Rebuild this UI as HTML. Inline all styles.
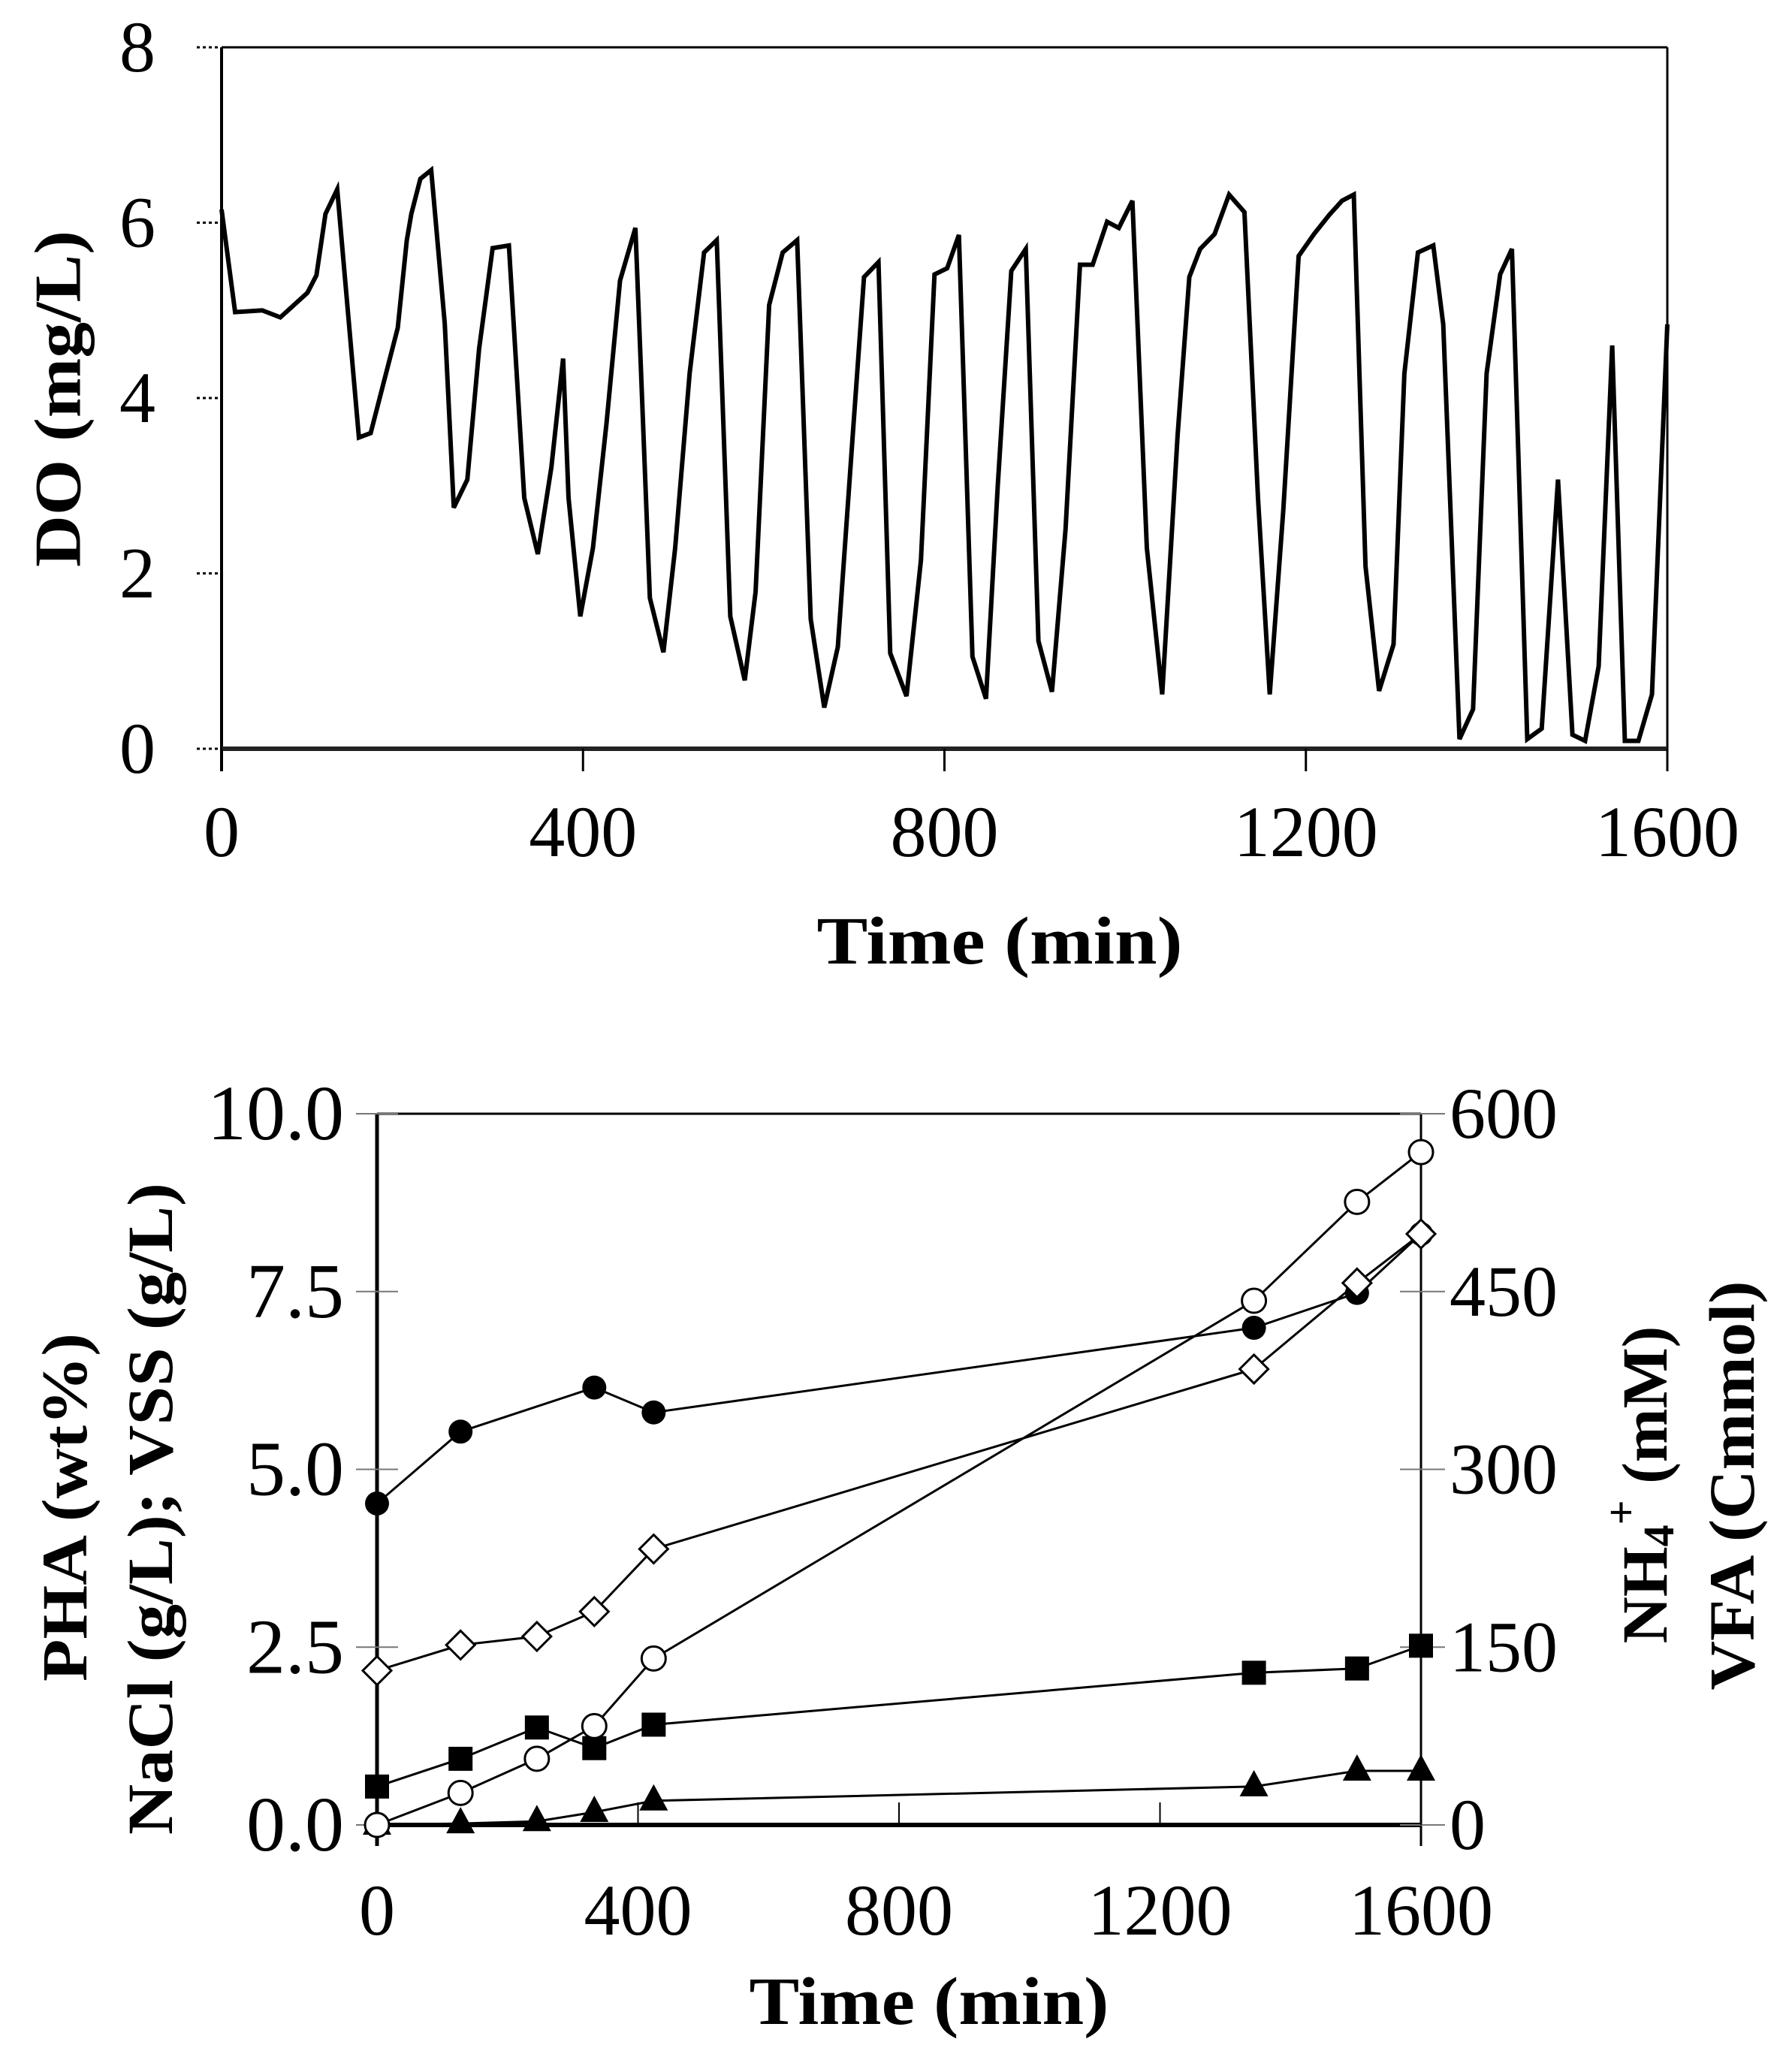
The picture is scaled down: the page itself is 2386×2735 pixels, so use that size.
<!DOCTYPE html>
<html><head><meta charset="utf-8"><style>
html,body{margin:0;padding:0;background:#fff;}
svg{display:block;}
text{font-family:"Liberation Serif",serif;fill:#000;}
</style></head><body>
<svg id="svg" width="2386" height="2735" viewBox="0 0 2386 2735" xmlns="http://www.w3.org/2000/svg">
<g id="top"></g>
<g id="bot"></g>
</svg>
<script>
// ---- Top chart data (DO vs time)
const doTimes = [0,15,45,65,95,105,115,128,138,152,165,180,195,205,210,220,232,247,257,272,285,300,318,335,350,365,378,384,397,411,426,441,458,474,489,502,518,534,548,563,579,591,606,621,637,652,667,682,698,711,727,740,758,774,789,803,816,831,846,859,874,890,904,919,934,950,964,980,993,1008,1024,1041,1058,1071,1083,1099,1115,1132,1147,1160,1175,1192,1209,1226,1240,1253,1266,1281,1297,1309,1324,1341,1352,1370,1385,1400,1415,1428,1445,1461,1479,1495,1509,1524,1539,1553,1568,1583,1600];
const doValues = [6.15,4.98,5.0,4.92,5.2,5.4,6.1,6.38,5.2,3.55,3.6,4.2,4.8,5.8,6.1,6.5,6.6,4.85,2.75,3.07,4.56,5.71,5.74,2.86,2.22,3.21,4.45,2.86,1.51,2.29,3.71,5.34,5.94,1.72,1.1,2.29,4.28,5.66,5.8,1.51,0.78,1.79,5.06,5.66,5.8,1.48,0.47,1.16,3.5,5.38,5.55,1.09,0.6,2.15,5.41,5.48,5.86,1.05,0.57,3.0,5.45,5.7,1.23,0.65,2.5,5.52,5.52,6.01,5.94,6.25,2.29,0.62,3.57,5.38,5.7,5.87,6.32,6.12,2.86,0.62,2.72,5.62,5.87,6.09,6.25,6.32,2.08,0.66,1.19,4.28,5.66,5.74,4.84,0.11,0.45,4.28,5.41,5.7,0.11,0.23,3.07,0.16,0.09,0.94,4.6,0.09,0.09,0.62,4.84];
const doYTicks = [0,2,4,6,8];
const xTicks = [0,400,800,1200,1600];

// ---- Bottom chart data
const sampleTimes = [0,128,245,333,424,1344,1502,1600];
const phaValues = [4.52,5.53,null,6.15,5.8,6.99,7.48,8.31];
const diamondValues = [2.17,2.53,2.65,3.0,3.88,6.41,7.62,8.31];
const openCircleValues = [0,0.45,0.93,1.39,2.34,7.37,8.76,9.46];
const squareValues = [0.54,0.93,1.37,1.08,1.41,2.14,2.2,2.52];
const triangleValues = [0,0.02,0.05,0.18,0.34,0.54,0.76,0.76];
const leftTicks = [0,2.5,5,7.5,10];
const leftTickLabels = ["0.0","2.5","5.0","7.5","10.0"];
const rightTicks = [0,150,300,450,600];

const NS="http://www.w3.org/2000/svg";
function mk(parent,tag,attrs,txt){const e=document.createElementNS(NS,tag);for(const k in attrs)e.setAttribute(k,attrs[k]);if(txt!==undefined)e.textContent=txt;parent.appendChild(e);return e;}

// ===== Top chart
const T=document.getElementById('top');
const tL=295,tR=2220,tTop=63,tBot=997;
const tx=t=>tL+t/1600*(tR-tL);
const ty=v=>tBot-v/8*(tBot-tTop);
let e;
e=mk(T,'line',{x1:tL,y1:tTop,x2:tR,y2:tTop,stroke:'#000','stroke-width':3});


e=mk(T,'line',{x1:tR,y1:tTop,x2:tR,y2:tBot+30,stroke:'#000','stroke-width':3});


e=mk(T,'line',{x1:tL,y1:tTop,x2:tL,y2:tBot+30,stroke:'#000','stroke-width':4});


e=mk(T,'line',{x1:tL,y1:tBot,x2:tR,y2:tBot,stroke:'#222','stroke-width':6});


doYTicks.forEach(v=>{
  e=mk(T,'line',{x1:tL-33,y1:ty(v),x2:tL-3,y2:ty(v),stroke:'#000','stroke-width':3,'stroke-dasharray':'4 4'});
  
  
  e=mk(T,'text',{x:207,y:ty(v)+32,'font-size':96,'text-anchor':'end'},String(v));
  
  
});
xTicks.forEach(v=>{
  e=mk(T,'line',{x1:tx(v),y1:tBot,x2:tx(v),y2:tBot+30,stroke:'#000','stroke-width':3});
  
  
  e=mk(T,'text',{x:tx(v),y:1140,'font-size':96,'text-anchor':'middle'},String(v));
  
  
});
e=mk(T,'polyline',{points:doTimes.map((t,i)=>tx(t)+','+ty(doValues[i])).join(' '),fill:'none',stroke:'#000','stroke-width':6,'stroke-linejoin':'miter'});


e=mk(T,'text',{x:1331,y:1283,'font-size':90,'font-weight':'bold','text-anchor':'middle',textLength:487,lengthAdjust:'spacingAndGlyphs'},'Time (min)');


e=mk(T,'text',{x:0,y:0,'font-size':88,'font-weight':'bold','text-anchor':'middle','dominant-baseline':'central',textLength:448,lengthAdjust:'spacingAndGlyphs',transform:'translate(78,531) rotate(-90)'},'DO (mg/L)');



// ===== Bottom chart
const B=document.getElementById('bot');
const bL=502,bR=1892,bTop=1483,bBot=2430;
const bx=t=>bL+t/1600*(bR-bL);
const by=v=>bBot-v/10*(bBot-bTop);
const byR=v=>bBot-v/600*(bBot-bTop);
e=mk(B,'line',{x1:bL,y1:bTop,x2:bR,y2:bTop,stroke:'#000','stroke-width':3});


e=mk(B,'line',{x1:bL,y1:bTop,x2:bL,y2:bBot+28,stroke:'#000','stroke-width':5});


e=mk(B,'line',{x1:bR,y1:bTop,x2:bR,y2:bBot+28,stroke:'#000','stroke-width':3});


e=mk(B,'line',{x1:bL,y1:bBot,x2:bR,y2:bBot,stroke:'#000','stroke-width':6});


leftTicks.forEach((v,i)=>{
  e=mk(B,'line',{x1:bL-28,y1:by(v),x2:bL+28,y2:by(v),stroke:'#777','stroke-width':2});
  
  
  e=mk(B,'text',{x:458,y:by(v)+34,'font-size':104,'text-anchor':'end'},leftTickLabels[i]);
  
  
});
rightTicks.forEach(v=>{
  e=mk(B,'line',{x1:bR-28,y1:byR(v),x2:bR+32,y2:byR(v),stroke:'#777','stroke-width':2});
  
  
  e=mk(B,'text',{x:1930,y:byR(v)+32,'font-size':96,'text-anchor':'start'},String(v));
  
  
});
xTicks.forEach(v=>{
  e=mk(B,'line',{x1:bx(v),y1:bBot-30,x2:bx(v),y2:bBot,stroke:'#000','stroke-width':2});
  
  
  e=mk(B,'text',{x:bx(v),y:2576,'font-size':96,'text-anchor':'middle'},String(v));
  
  
});
function series(vals,kind,name){
  const pts=[];
  sampleTimes.forEach((t,i)=>{if(vals[i]!==null)pts.push([bx(t),by(vals[i])]);});
  e=mk(B,'polyline',{points:pts.map(p=>p.join(',')).join(' '),fill:'none',stroke:'#000','stroke-width':3});
  
  
  pts.forEach(([x,y])=>{
    let m;
    if(kind==='fcircle')m=mk(B,'circle',{cx:x,cy:y,r:16,fill:'#000'});
    else if(kind==='ocircle')m=mk(B,'circle',{cx:x,cy:y,r:16,fill:'#fff',stroke:'#000','stroke-width':3});
    else if(kind==='square')m=mk(B,'rect',{x:x-16,y:y-16,width:32,height:32,fill:'#000'});
    else if(kind==='diamond')m=mk(B,'polygon',{points:`${x},${y-19} ${x+19},${y} ${x},${y+19} ${x-19},${y}`,fill:'#fff',stroke:'#000','stroke-width':3});
    else m=mk(B,'polygon',{points:`${x},${y-22} ${x+19},${y+13} ${x-19},${y+13}`,fill:'#000'});
    
    
  });
}
series(triangleValues,'triangle','triangle-series');
series(squareValues,'square','square-series');
series(openCircleValues,'ocircle','open-circle-series');
series(phaValues,'fcircle','filled-circle-series');
series(diamondValues,'diamond','diamond-series');

e=mk(B,'text',{x:1237,y:2695,'font-size':90,'font-weight':'bold','text-anchor':'middle',textLength:479,lengthAdjust:'spacingAndGlyphs'},'Time (min)');


e=mk(B,'text',{x:0,y:0,'font-size':86,'font-weight':'bold','text-anchor':'middle','dominant-baseline':'central',textLength:464,lengthAdjust:'spacingAndGlyphs',transform:'translate(86,2007) rotate(-90)'},'PHA (wt%)');


e=mk(B,'text',{x:0,y:0,'font-size':86,'font-weight':'bold','text-anchor':'middle','dominant-baseline':'central',textLength:868,lengthAdjust:'spacingAndGlyphs',transform:'translate(200,2009) rotate(-90)'},'NaCl (g/L); VSS (g/L)');


const nh=mk(B,'text',{x:0,y:0,'font-size':86,'font-weight':'bold','text-anchor':'middle','dominant-baseline':'central',transform:'translate(2190,1977) rotate(-90)'});


mk(nh,'tspan',{},'NH');
mk(nh,'tspan',{'font-size':58,dy:18},'4');
mk(nh,'tspan',{'font-size':58,dy:-50},'+');
mk(nh,'tspan',{dy:32},' (mM)');
e=mk(B,'text',{x:0,y:0,'font-size':86,'font-weight':'bold','text-anchor':'middle','dominant-baseline':'central',textLength:545,lengthAdjust:'spacingAndGlyphs',transform:'translate(2306,1978) rotate(-90)'},'VFA (Cmmol)');


</script>
</body></html>
